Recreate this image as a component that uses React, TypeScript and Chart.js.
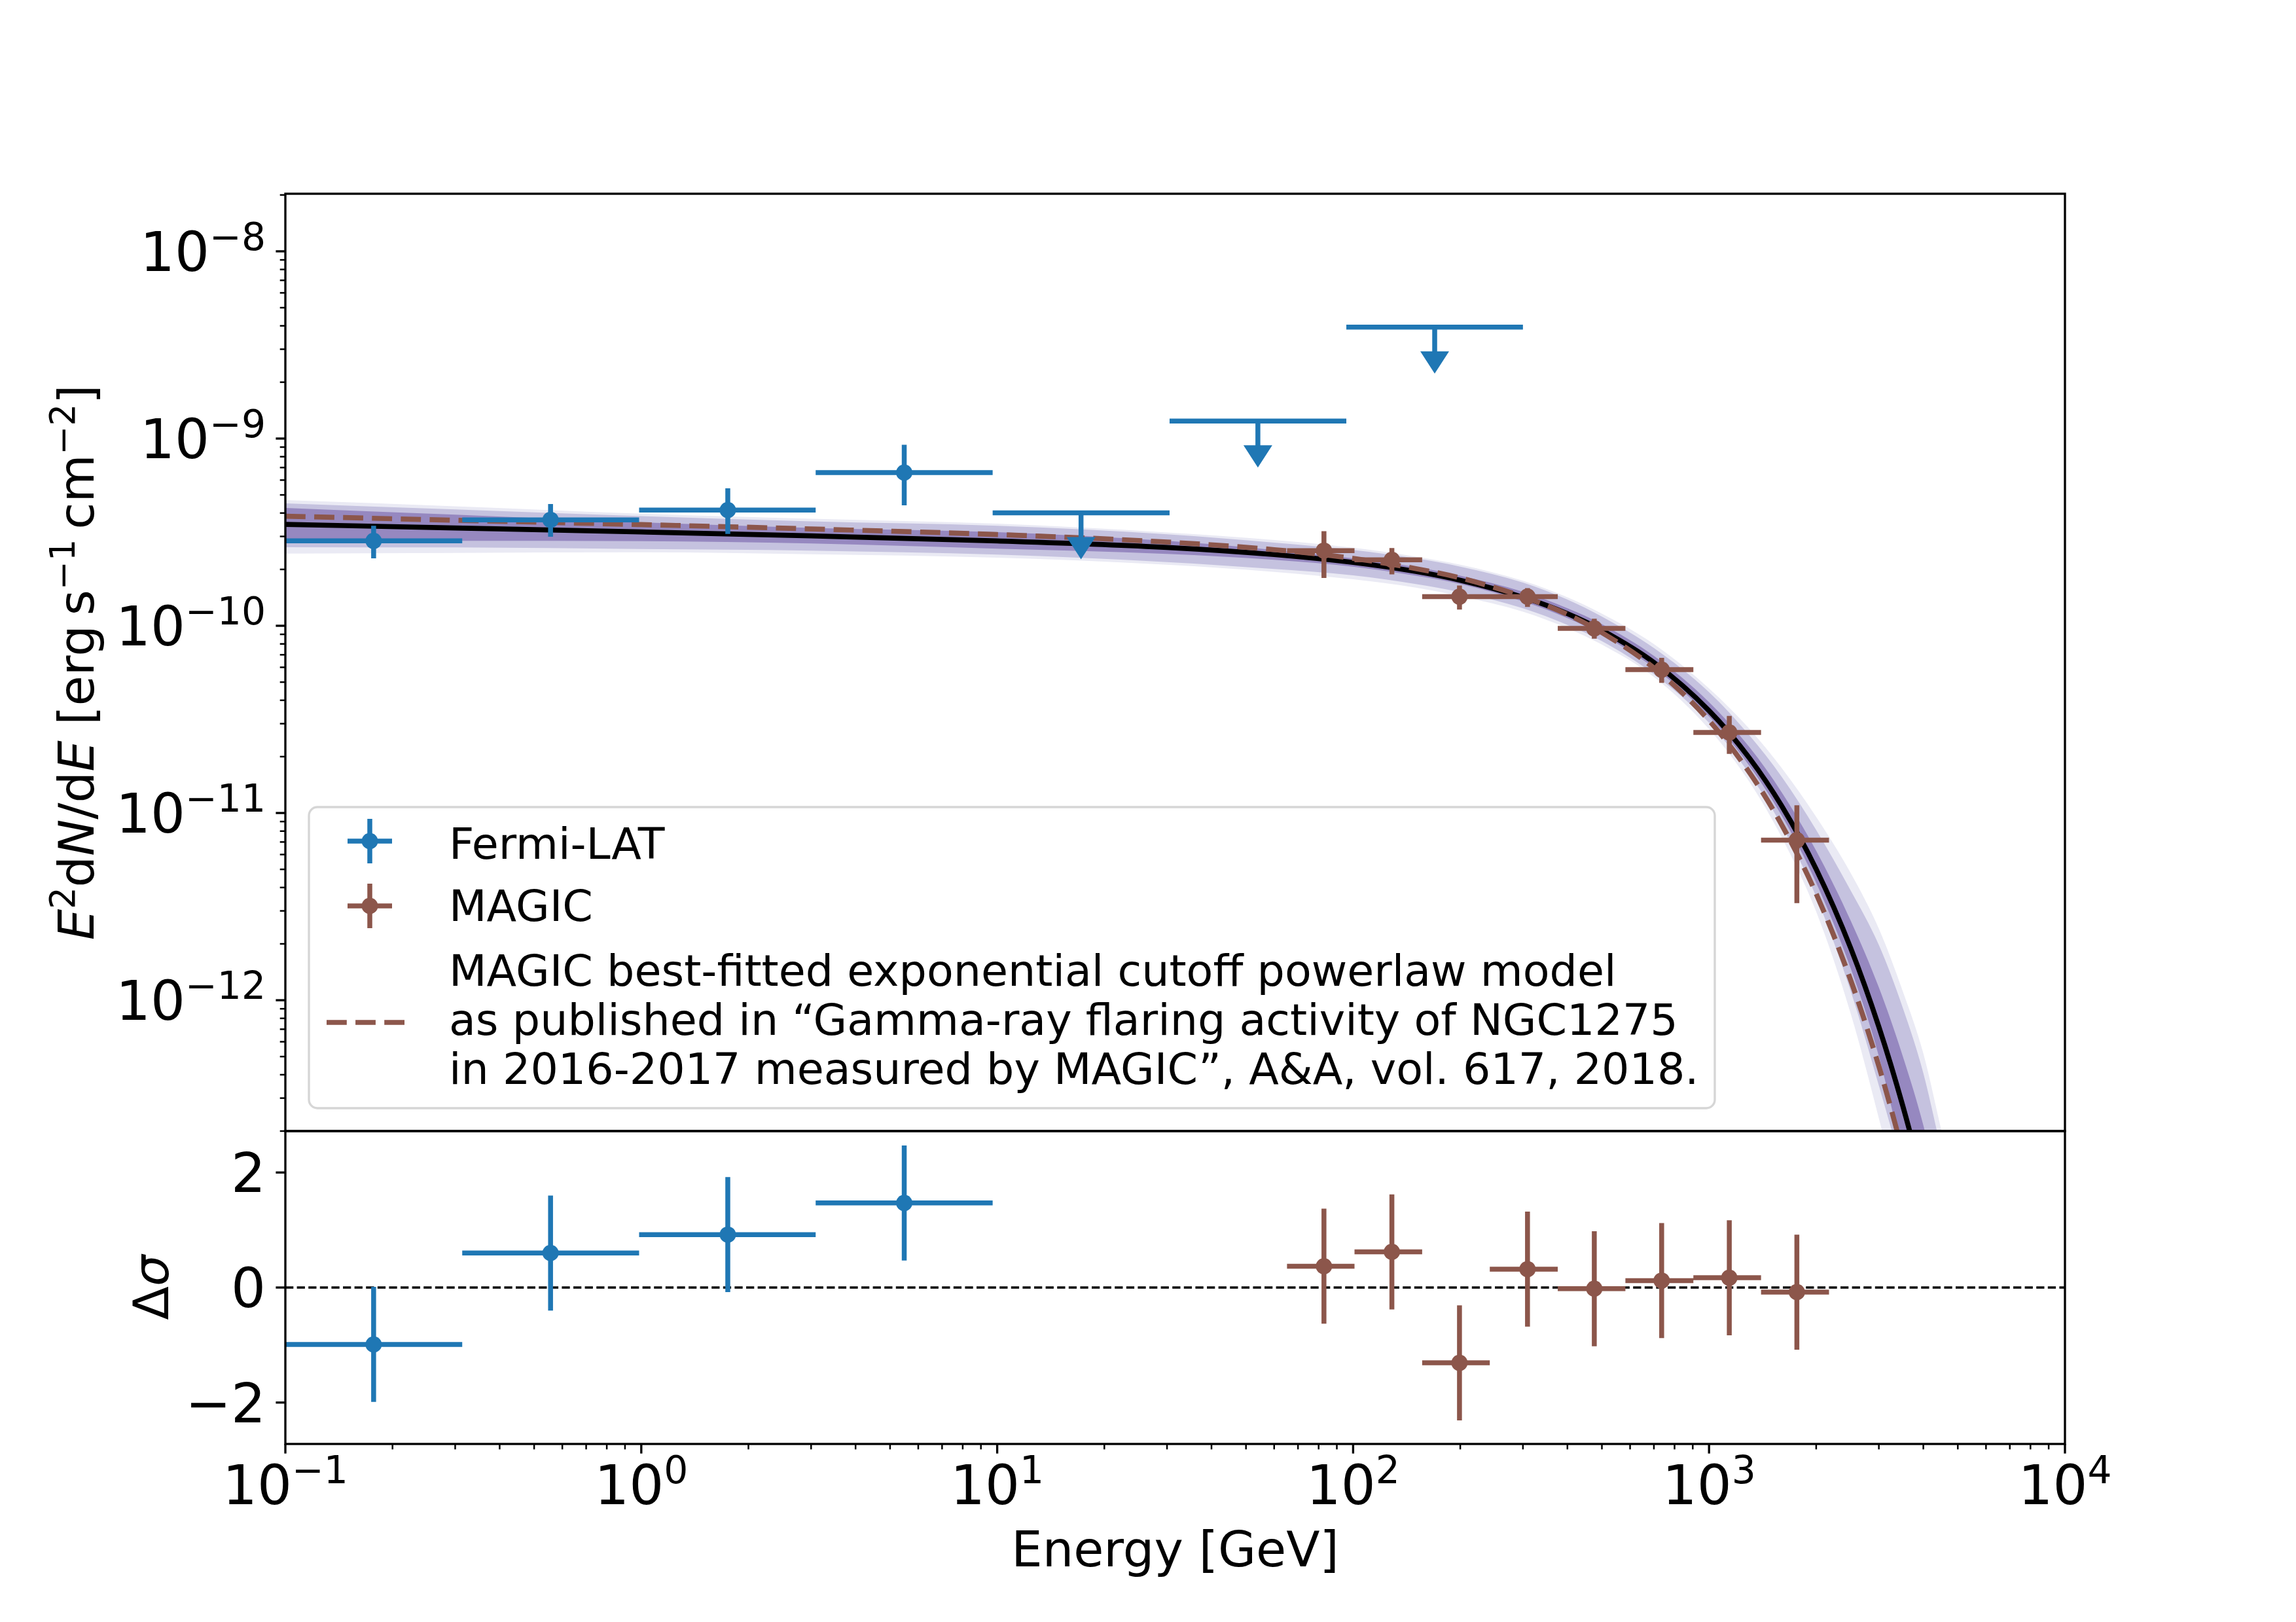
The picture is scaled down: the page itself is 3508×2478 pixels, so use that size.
import { useEffect, useRef } from 'react';
import { Chart, registerables } from 'chart.js';

Chart.register(...registerables);

const W = 3508;
const H = 2478;
const FONT = '"DejaVu Sans"';
const FERMI_COLOR = '#1f77b4';
const MAGIC_COLOR = '#8c564b';
const OUTER_BAND = '#eaeaf4';
const MID_BAND = '#c5c2df';
const INNER_BAND = '#9688c0';

const TICK_FS = 83.3;
const LABEL_FS = 75;
const LEGEND_FS = 66.7;
const AX_LW = 3.33;
const ERR_LW = 7.5;
const MARKER_R = 12.5;

// Fermi-LAT flux points (GeV, erg s-1 cm-2)
const fermiE = [0.177, 0.556, 1.75, 5.48];
const fermiEmin = [0.1, 0.314, 0.986, 3.09];
const fermiEmax = [0.314, 0.986, 3.09, 9.71];
const fermiFlux = [2.84e-10, 3.68e-10, 4.15e-10, 6.58e-10];
const fermiFluxLo = [2.29e-10, 2.99e-10, 3.09e-10, 4.4e-10];
const fermiFluxHi = [3.42e-10, 4.47e-10, 5.42e-10, 9.27e-10];

// Fermi-LAT upper limits
const ulE = [17.2, 54.0, 169.5];
const ulEmin = [9.71, 30.5, 95.7];
const ulEmax = [30.5, 95.7, 300];
const ulFlux = [4.01e-10, 1.24e-9, 3.94e-9];

// MAGIC flux points
const magicE = [82.8, 128.5, 199, 309, 476, 736, 1140, 1765];
const magicEmin = [65.2, 100.9, 156.3, 242.1, 375.8, 582.1, 903.6, 1400];
const magicEmax = [100.9, 156.3, 242.1, 375.8, 582.1, 903.6, 1400, 2173];
const magicFlux = [2.52e-10, 2.25e-10, 1.43e-10, 1.43e-10, 9.68e-11, 5.83e-11, 2.69e-11, 7.16e-12];
const magicFluxLo = [1.8e-10, 1.88e-10, 1.22e-10, 1.26e-10, 8.53e-11, 4.95e-11, 2.07e-11, 3.3e-12];
const magicFluxHi = [3.2e-10, 2.6e-10, 1.64e-10, 1.59e-10, 1.09e-10, 6.74e-11, 3.3e-11, 1.1e-11];

// model curves and bands
const modelE = [0.1, 0.3, 1, 3, 10, 30, 60, 100, 150, 200, 300, 400, 500, 700, 1000, 1300, 1600, 2000, 2500, 3000, 3500, 4000, 4500];
const bestFit = [3.48e-10, 3.33e-10, 3.17e-10, 3.02e-10, 2.84e-10, 2.62e-10, 2.4e-10, 2.18e-10, 1.95e-10, 1.75e-10, 1.42e-10, 1.16e-10, 9.47e-11, 6.37e-11, 3.52e-11, 1.96e-11, 1.09e-11, 5.01e-12, 1.9e-12, 7.21e-13, 2.74e-13, 1.04e-13, 3.98e-14];
const published = [3.85e-10, 3.66e-10, 3.47e-10, 3.29e-10, 3.07e-10, 2.8e-10, 2.55e-10, 2.29e-10, 2.02e-10, 1.8e-10, 1.43e-10, 1.15e-10, 9.19e-11, 5.95e-11, 3.12e-11, 1.64e-11, 8.65e-12, 3.7e-12, 1.28e-12, 4.44e-13, 1.54e-13, 5.4e-14, 1.87e-14];
const outerHi = [4.69e-10, 4.35e-10, 3.97e-10, 3.73e-10, 3.51e-10, 3.15e-10, 2.87e-10, 2.61e-10, 2.34e-10, 2.12e-10, 1.74e-10, 1.42e-10, 1.16e-10, 7.98e-11, 4.63e-11, 2.81e-11, 1.74e-11, 9.53e-12, 4.78e-12, 2.41e-12, 1.12e-12, 5.2e-13, 2.0e-13];
const outerLo = [2.43e-10, 2.45e-10, 2.47e-10, 2.41e-10, 2.31e-10, 2.12e-10, 1.94e-10, 1.77e-10, 1.6e-10, 1.44e-10, 1.19e-10, 9.71e-11, 7.93e-11, 5.33e-11, 2.81e-11, 1.46e-11, 7.41e-12, 2.97e-12, 8.49e-13, 2.34e-13, 6.98e-14, 2.09e-14, 7.9e-15];
const midHi = [4.51e-10, 4.18e-10, 3.85e-10, 3.61e-10, 3.42e-10, 3.08e-10, 2.78e-10, 2.54e-10, 2.29e-10, 2.07e-10, 1.7e-10, 1.38e-10, 1.12e-10, 7.6e-11, 4.42e-11, 2.59e-11, 1.56e-11, 8.11e-12, 3.85e-12, 1.97e-12, 9.14e-13, 4.08e-13, 1.56e-13];
const midLo = [2.63e-10, 2.62e-10, 2.57e-10, 2.52e-10, 2.4e-10, 2.19e-10, 2.01e-10, 1.86e-10, 1.67e-10, 1.51e-10, 1.24e-10, 1.01e-10, 8.27e-11, 5.51e-11, 3.03e-11, 1.61e-11, 8.57e-12, 3.57e-12, 1.12e-12, 3.5e-13, 1.22e-13, 4.14e-14, 1.58e-14];
const innerHi = [4.26e-10, 3.92e-10, 3.57e-10, 3.33e-10, 3.16e-10, 2.84e-10, 2.54e-10, 2.29e-10, 2.06e-10, 1.85e-10, 1.52e-10, 1.24e-10, 1.02e-10, 6.9e-11, 3.91e-11, 2.24e-11, 1.29e-11, 6.28e-12, 2.66e-12, 1.17e-12, 5.04e-13, 2.15e-13, 8.2e-14];
const innerLo = [2.85e-10, 2.84e-10, 2.83e-10, 2.75e-10, 2.58e-10, 2.42e-10, 2.25e-10, 2.07e-10, 1.85e-10, 1.67e-10, 1.35e-10, 1.1e-10, 8.96e-11, 5.97e-11, 3.28e-11, 1.78e-11, 9.68e-12, 4.24e-12, 1.48e-12, 5.02e-13, 1.49e-13, 5.06e-14, 1.93e-14];

// residuals in sigma
const fermiRes = [-0.99, 0.6, 0.92, 1.47];
const fermiResErr = [1, 1, 1, 1];
const magicRes = [0.37, 0.62, -1.31, 0.32, -0.02, 0.12, 0.17, -0.08];
const magicResErr = [1, 1, 1, 1, 1, 1, 1, 1];

// ticks
const xTicks = [0.1, 1, 10, 100, 1000, 10000];
const xTickExp = ['\u22121', '0', '1', '2', '3', '4'];
const yTicks = [1e-12, 1e-11, 1e-10, 1e-9, 1e-8];
const yTickExp = ['\u221212', '\u221211', '\u221210', '\u22129', '\u22128'];
const resTicks = [-2, 0, 2];
const resTickLabels = ['\u22122', '0', '2'];

const legendLabels = [
  'Fermi-LAT',
  'MAGIC',
  'MAGIC best-fitted exponential cutoff powerlaw model',
  'as published in \u201cGamma-ray flaring activity of NGC1275',
  'in 2016-2017 measured by MAGIC\u201d, A&A, vol. 617, 2018.',
];

type Run = { t: string; it?: boolean; sup?: boolean };

function runFont(r: Run, size: number) {
  const s = r.sup ? size * 0.7 : size;
  return `${r.it ? 'italic ' : ''}${s}px ${FONT}`;
}

function drawRuns(ctx: CanvasRenderingContext2D, runs: Run[], x: number, y: number, size: number, align: 'left' | 'center' | 'right') {
  let w = 0;
  for (const r of runs) {
    ctx.font = runFont(r, size);
    w += ctx.measureText(r.t).width;
  }
  let cx = align === 'left' ? x : align === 'center' ? x - w / 2 : x - w;
  ctx.textAlign = 'left';
  ctx.textBaseline = 'alphabetic';
  for (const r of runs) {
    ctx.font = runFont(r, size);
    ctx.fillText(r.t, cx, r.sup ? y - size * 0.385 : y);
    cx += ctx.measureText(r.t).width;
  }
}

function minorLogTicks(min: number, max: number) {
  const out: number[] = [];
  for (let e = Math.floor(Math.log10(min)); e <= Math.ceil(Math.log10(max)); e++) {
    for (let k = 2; k <= 9; k++) {
      const v = k * Math.pow(10, e);
      if (v >= min * 0.999 && v <= max * 1.001) out.push(v);
    }
  }
  return out;
}

function tickLine(ctx: CanvasRenderingContext2D, x1: number, y1: number, x2: number, y2: number, lw: number) {
  ctx.lineWidth = lw;
  ctx.beginPath();
  ctx.moveTo(x1, y1);
  ctx.lineTo(x2, y2);
  ctx.stroke();
}

const errorBarPlugin = {
  id: 'errorBars',
  beforeDatasetDraw(chart: any, args: any) {
    const ds = chart.data.datasets[args.index];
    const eb = ds.errorBars;
    const ul = ds.upperLimits;
    if (!eb && !ul) return;
    const { ctx, chartArea: a } = chart;
    const xs = chart.scales.x;
    const ys = chart.scales.y;
    ctx.save();
    ctx.beginPath();
    ctx.rect(a.left, a.top, a.right - a.left, a.bottom - a.top);
    ctx.clip();
    ctx.strokeStyle = ds.backgroundColor;
    ctx.fillStyle = ds.backgroundColor;
    ctx.lineWidth = ERR_LW;
    ctx.lineCap = 'butt';
    if (eb) {
      ctx.beginPath();
      eb.x.forEach((xv: number, i: number) => {
        const px = xs.getPixelForValue(xv);
        const py = ys.getPixelForValue(eb.y[i]);
        ctx.moveTo(xs.getPixelForValue(eb.xMin[i]), py);
        ctx.lineTo(xs.getPixelForValue(eb.xMax[i]), py);
        ctx.moveTo(px, ys.getPixelForValue(eb.yMin[i]));
        ctx.lineTo(px, ys.getPixelForValue(eb.yMax[i]));
      });
      ctx.stroke();
    }
    if (ul) {
      ul.x.forEach((xv: number, i: number) => {
        const px = xs.getPixelForValue(xv);
        const py = ys.getPixelForValue(ul.y[i]);
        ctx.beginPath();
        ctx.moveTo(xs.getPixelForValue(ul.xMin[i]), py);
        ctx.lineTo(xs.getPixelForValue(ul.xMax[i]), py);
        ctx.moveTo(px, py);
        ctx.lineTo(px, py + 38);
        ctx.stroke();
        ctx.beginPath();
        ctx.moveTo(px - 22, py + 37);
        ctx.lineTo(px + 22, py + 37);
        ctx.lineTo(px, py + 71);
        ctx.closePath();
        ctx.fill();
      });
    }
    ctx.restore();
  },
};

function errHandle(ctx: CanvasRenderingContext2D, x: number, y: number, color: string) {
  ctx.strokeStyle = color;
  ctx.fillStyle = color;
  ctx.lineWidth = ERR_LW;
  ctx.beginPath();
  ctx.moveTo(x - 34, y);
  ctx.lineTo(x + 34, y);
  ctx.moveTo(x, y - 34);
  ctx.lineTo(x, y + 34);
  ctx.stroke();
  ctx.beginPath();
  ctx.arc(x, y, MARKER_R, 0, Math.PI * 2);
  ctx.fill();
}

const topAxesPlugin = {
  id: 'topAxes',
  afterDraw(chart: any) {
    const { ctx, chartArea: a } = chart;
    const ys = chart.scales.y;
    ctx.save();
    ctx.strokeStyle = '#000';
    ctx.fillStyle = '#000';
    ctx.lineWidth = AX_LW;
    ctx.strokeRect(a.left, a.top, a.right - a.left, a.bottom - a.top);
    for (const v of minorLogTicks(ys.min, ys.max)) {
      const py = ys.getPixelForValue(v);
      tickLine(ctx, a.left, py, a.left - 8.3, py, 2.5);
    }
    yTicks.forEach((v, i) => {
      const py = ys.getPixelForValue(v);
      tickLine(ctx, a.left, py, a.left - 14.6, py, AX_LW);
      drawRuns(ctx, [{ t: '10' }, { t: yTickExp[i], sup: true }], a.left - 30, py + 30, TICK_FS, 'right');
    });
    // y label
    ctx.save();
    ctx.translate(143, (a.top + a.bottom) / 2);
    ctx.rotate(-Math.PI / 2);
    drawRuns(ctx, [
      { t: 'E', it: true }, { t: '2', sup: true }, { t: 'd' }, { t: 'N', it: true }, { t: '/d' }, { t: 'E', it: true },
      { t: ' [erg\u2009s' }, { t: '\u22121', sup: true }, { t: '\u2009cm' }, { t: '\u22122', sup: true }, { t: ']' },
    ], 0, 0, LABEL_FS, 'center');
    ctx.restore();

    // legend
    ctx.beginPath();
    ctx.roundRect(472, 1233, 2148, 460, 13);
    ctx.fillStyle = 'rgba(255,255,255,0.8)';
    ctx.fill();
    ctx.strokeStyle = 'rgba(204,204,204,0.8)';
    ctx.lineWidth = AX_LW;
    ctx.stroke();
    errHandle(ctx, 565, 1285, FERMI_COLOR);
    errHandle(ctx, 565, 1384, MAGIC_COLOR);
    ctx.strokeStyle = MAGIC_COLOR;
    ctx.lineWidth = ERR_LW;
    ctx.setLineDash([30.8, 13.3]);
    ctx.beginPath();
    ctx.moveTo(499, 1562);
    ctx.lineTo(631, 1562);
    ctx.stroke();
    ctx.setLineDash([]);
    ctx.fillStyle = '#000';
    ctx.font = `${LEGEND_FS}px ${FONT}`;
    ctx.textAlign = 'left';
    ctx.textBaseline = 'alphabetic';
    const baselines = [1312, 1407, 1506, 1581, 1656];
    legendLabels.forEach((t, i) => ctx.fillText(t, 686, baselines[i]));
    ctx.restore();
  },
};

const bottomAxesPlugin = {
  id: 'bottomAxes',
  afterDraw(chart: any) {
    const { ctx, chartArea: a } = chart;
    const xs = chart.scales.x;
    const ys = chart.scales.y;
    ctx.save();
    ctx.strokeStyle = '#000';
    ctx.fillStyle = '#000';
    ctx.lineWidth = AX_LW;
    ctx.strokeRect(a.left, a.top, a.right - a.left, a.bottom - a.top);
    for (const v of minorLogTicks(xs.min, xs.max)) {
      const px = xs.getPixelForValue(v);
      tickLine(ctx, px, a.bottom, px, a.bottom + 8.3, 2.5);
    }
    xTicks.forEach((v, i) => {
      const px = xs.getPixelForValue(v);
      tickLine(ctx, px, a.bottom, px, a.bottom + 14.6, AX_LW);
      drawRuns(ctx, [{ t: '10' }, { t: xTickExp[i], sup: true }], px, 2298, TICK_FS, 'center');
    });
    resTicks.forEach((v, i) => {
      const py = ys.getPixelForValue(v);
      tickLine(ctx, a.left, py, a.left - 14.6, py, AX_LW);
      drawRuns(ctx, [{ t: resTickLabels[i] }], a.left - 30, py + 30, TICK_FS, 'right');
    });
    drawRuns(ctx, [{ t: 'Energy [GeV]' }], (a.left + a.right) / 2, 2393, LABEL_FS, 'center');
    ctx.save();
    ctx.translate(257, (a.top + a.bottom) / 2);
    ctx.rotate(-Math.PI / 2);
    drawRuns(ctx, [{ t: '\u0394' }, { t: '\u03c3', it: true }], 0, 0, LABEL_FS, 'center');
    ctx.restore();
    ctx.restore();
  },
};

const xy = (xs: number[], ys: number[]) => xs.map((x, i) => ({ x, y: ys[i] }));

function curve(data: number[], color: string, order: number, extra: any = {}) {
  return {
    data: xy(modelE, data),
    borderColor: color,
    backgroundColor: color,
    borderWidth: 7.7,
    pointRadius: 0,
    cubicInterpolationMode: 'monotone',
    capBezierPoints: false,
    fill: false,
    clip: 0,
    order,
    ...extra,
  };
}

function bandEdge(data: number[], color: string, order: number, fill: any) {
  return {
    data: xy(modelE, data),
    borderWidth: 0,
    borderColor: 'rgba(0,0,0,0)',
    backgroundColor: color,
    pointRadius: 0,
    cubicInterpolationMode: 'monotone',
    capBezierPoints: false,
    fill,
    clip: 0,
    order,
  };
}

function points(xv: number[], yv: number[], color: string, order: number, extra: any) {
  return {
    data: xy(xv, yv),
    showLine: false,
    borderColor: color,
    backgroundColor: color,
    pointRadius: MARKER_R,
    pointBorderWidth: 0,
    pointBackgroundColor: color,
    clip: false,
    order,
    ...extra,
  };
}

const baseOptions = (padding: any, yScale: any) => ({
  responsive: false,
  animation: false as const,
  devicePixelRatio: 1,
  events: [],
  layout: { padding },
  plugins: { legend: { display: false }, tooltip: { enabled: false } },
  scales: {
    x: { type: 'logarithmic', min: 0.1, max: 1e4, display: false },
    y: yScale,
  },
});

export default function App() {
  const topRef = useRef<HTMLCanvasElement>(null);
  const botRef = useRef<HTMLCanvasElement>(null);

  useEffect(() => {
    if (!topRef.current || !botRef.current) return;

    const top = new Chart(topRef.current, {
      type: 'line',
      data: {
        datasets: [
          bandEdge(outerHi, OUTER_BAND, 12, false),
          bandEdge(outerLo, OUTER_BAND, 11, '-1'),
          bandEdge(midHi, MID_BAND, 10, false),
          bandEdge(midLo, MID_BAND, 9, '-1'),
          bandEdge(innerHi, INNER_BAND, 8, false),
          bandEdge(innerLo, INNER_BAND, 7, '-1'),
          curve(bestFit, '#000000', 6),
          curve(published, MAGIC_COLOR, 5, { borderDash: [30.8, 13.3] }),
          points(fermiE, fermiFlux, FERMI_COLOR, 1, {
            errorBars: { x: fermiE, y: fermiFlux, xMin: fermiEmin, xMax: fermiEmax, yMin: fermiFluxLo, yMax: fermiFluxHi },
            upperLimits: { x: ulE, y: ulFlux, xMin: ulEmin, xMax: ulEmax },
          }),
          points(magicE, magicFlux, MAGIC_COLOR, 0, {
            errorBars: { x: magicE, y: magicFlux, xMin: magicEmin, xMax: magicEmax, yMin: magicFluxLo, yMax: magicFluxHi },
          }),
        ] as any,
      },
      options: baseOptions(
        { left: 436, top: 296, right: W - 3155, bottom: H - 1728 },
        { type: 'logarithmic', min: 2e-13, max: 2.03e-8, display: false },
      ) as any,
      plugins: [errorBarPlugin, topAxesPlugin],
    });

    const bot = new Chart(botRef.current, {
      type: 'line',
      data: {
        datasets: [
          {
            data: [{ x: 0.1, y: 0 }, { x: 1e4, y: 0 }],
            borderColor: '#000000',
            borderWidth: 3.3,
            borderDash: [12.3, 5.3],
            pointRadius: 0,
            fill: false,
            clip: 0,
            order: 5,
          },
          points(fermiE, fermiRes, FERMI_COLOR, 1, {
            errorBars: {
              x: fermiE, y: fermiRes, xMin: fermiEmin, xMax: fermiEmax,
              yMin: fermiRes.map((r, i) => r - fermiResErr[i]), yMax: fermiRes.map((r, i) => r + fermiResErr[i]),
            },
          }),
          points(magicE, magicRes, MAGIC_COLOR, 0, {
            errorBars: {
              x: magicE, y: magicRes, xMin: magicEmin, xMax: magicEmax,
              yMin: magicRes.map((r, i) => r - magicResErr[i]), yMax: magicRes.map((r, i) => r + magicResErr[i]),
            },
          }),
        ] as any,
      },
      options: baseOptions(
        { left: 436, top: 1728, right: W - 3155, bottom: H - 2206 },
        { type: 'linear', min: -2.72, max: 2.72, display: false },
      ) as any,
      plugins: [errorBarPlugin, bottomAxesPlugin],
    });

    return () => {
      top.destroy();
      bot.destroy();
    };
  }, []);

  const canvasStyle = { position: 'absolute' as const, left: 0, top: 0, width: W, height: H };
  return (
    <div style={{ position: 'absolute', left: 0, top: 0, width: W, height: H, background: '#ffffff' }}>
      <canvas ref={topRef} width={W} height={H} style={canvasStyle} />
      <canvas ref={botRef} width={W} height={H} style={canvasStyle} />
    </div>
  );
}
